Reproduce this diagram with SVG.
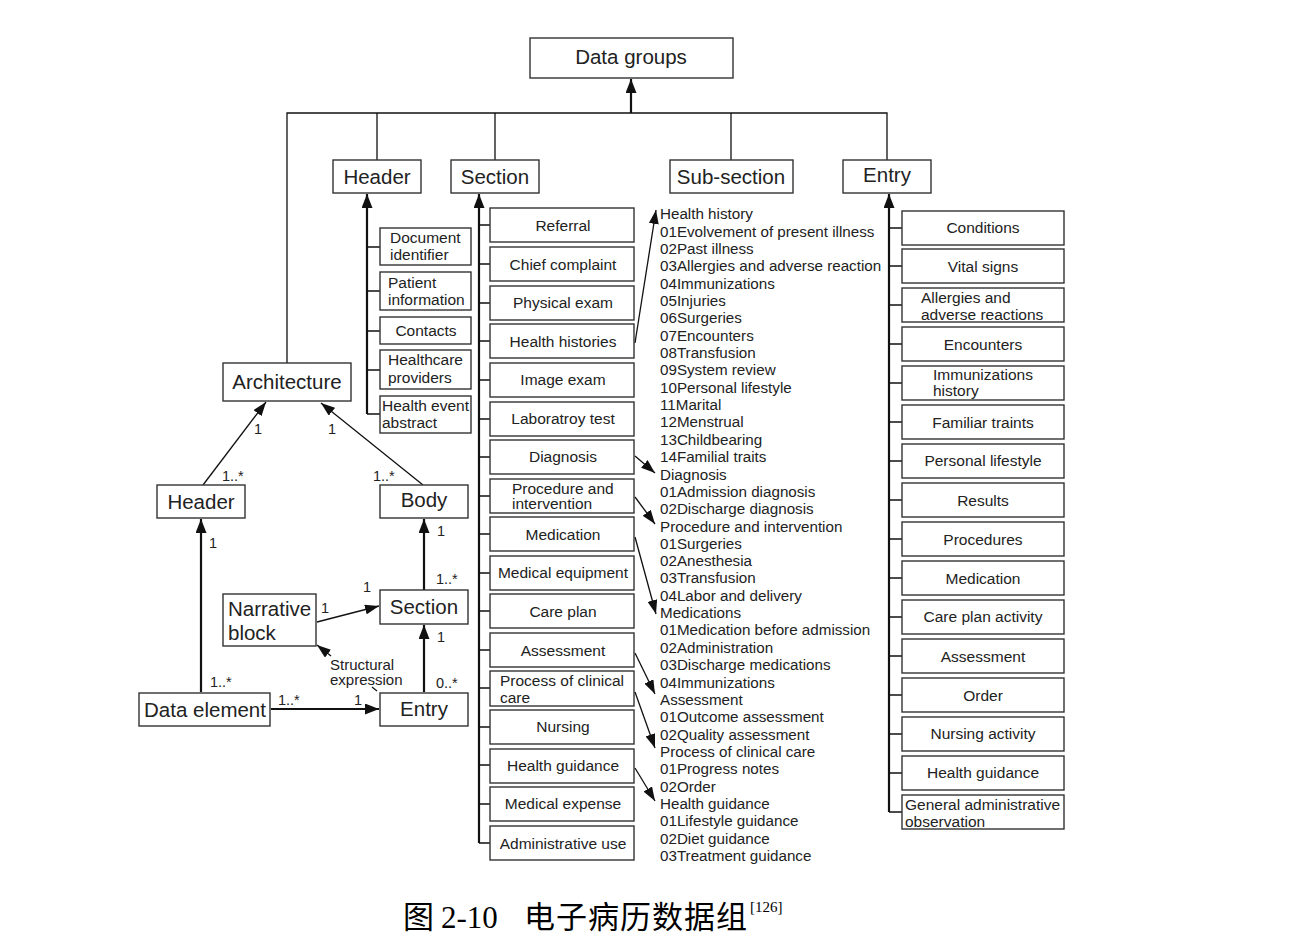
<svg xmlns="http://www.w3.org/2000/svg" width="1300" height="942" viewBox="0 0 1300 942">
<defs>
<marker id="ah" markerUnits="userSpaceOnUse" markerWidth="14" markerHeight="11" refX="14" refY="5.5" orient="auto"><path d="M0,0 L14,5.5 L0,11 z" fill="#111"/></marker>
<marker id="ahs" markerUnits="userSpaceOnUse" markerWidth="14" markerHeight="10" refX="14" refY="5" orient="auto"><path d="M0,0 L14,5 L0,10 z" fill="#111"/></marker>
<style>
.b{fill:#fff;stroke:#333;stroke-width:1.4}
.t{font-family:"Liberation Sans",Arial,sans-serif;fill:#222}
.big{font-size:20.5px;text-anchor:middle}
.it{font-size:15.5px;text-anchor:middle}
.il{font-size:15.5px}
.sub{font-size:15.2px}
.n{font-size:14.5px}
.thin{stroke:#111;stroke-width:1.3;fill:none}
.thk{stroke:#111;stroke-width:2.2;fill:none}
.cap{font-family:"Liberation Serif","Noto Sans CJK SC",serif;fill:#000}
</style>
</defs>
<rect width="1300" height="942" fill="#fff"/>

<g id="connectors">
<path class="thin" d="M287,363 V113 H887 V160 M377,113 V160 M495,113 V160 M731,113 V160"/>
<path class="thk" d="M631,113 V79" marker-end="url(#ah)"/>
<path class="thk" d="M367,414 V194" marker-end="url(#ah)"/>
<path class="thin" d="M367,414 H380 M367,247 H380 M367,291 H380 M367,331 H380 M367,370 H380"/>
<path class="thk" d="M479,843 V194" marker-end="url(#ah)"/>
<path class="thin" d="M479,843 H490 M479,225 H490 M479,264 H490 M479,303 H490 M479,341 H490 M479,380 H490 M479,419 H490 M479,457 H490 M479,496 H490 M479,534 H490 M479,573 H490 M479,611 H490 M479,650 H490 M479,688 H490 M479,727 H490 M479,765 H490 M479,804 H490"/>
<path class="thk" d="M889,812 V194" marker-end="url(#ah)"/>
<path class="thin" d="M889,812 H902 M889,228 H902 M889,266 H902 M889,305 H902 M889,344 H902 M889,383 H902 M889,422 H902 M889,461 H902 M889,500 H902 M889,539 H902 M889,578 H902 M889,617 H902 M889,656 H902 M889,695 H902 M889,734 H902 M889,773 H902"/>
<path class="thin" d="M635,343 L656,210" marker-end="url(#ahs)"/>
<path class="thin" d="M635,456 L655,473" marker-end="url(#ahs)"/>
<path class="thin" d="M635,497 L655,524" marker-end="url(#ahs)"/>
<path class="thin" d="M635,537 L656,614" marker-end="url(#ahs)"/>
<path class="thin" d="M635,653 L655,694" marker-end="url(#ahs)"/>
<path class="thin" d="M635,692 L655,748" marker-end="url(#ahs)"/>
<path class="thin" d="M635,768 L655,801" marker-end="url(#ahs)"/>
<path class="thin" d="M203,485 L266,402" marker-end="url(#ahs)"/>
<path class="thin" d="M423,485 L321,403" marker-end="url(#ahs)"/>
<path class="thk" d="M201,692 V519" marker-end="url(#ah)"/>
<path class="thk" d="M424,590 V519" marker-end="url(#ah)"/>
<path class="thk" d="M424,692 V625" marker-end="url(#ah)"/>
<path class="thk" d="M271,709 H379" marker-end="url(#ah)"/>
<path class="thin" d="M317,622 L379,606" marker-end="url(#ahs)"/>
<path class="thin" d="M377,691 L372,687"/>
<path class="thin" d="M331,656 L317,645" marker-end="url(#ahs)"/>
</g>

<g id="labels" class="t n">
<text x="254" y="434">1</text>
<text x="222" y="481">1..*</text>
<text x="328" y="434">1</text>
<text x="373" y="481">1..*</text>
<text x="209" y="548">1</text>
<text x="210" y="687">1..*</text>
<text x="437" y="536">1</text>
<text x="436" y="584">1..*</text>
<text x="437" y="642">1</text>
<text x="436" y="688">0..*</text>
<text x="278" y="705">1..*</text>
<text x="354" y="705">1</text>
<text x="363" y="592">1</text>
<text x="321" y="613">1</text>
<text x="330" y="670" font-size="15px">Structural</text>
<text x="330" y="685" font-size="15px">expression</text>
</g>

<g id="data-groups"><rect class="b" x="530" y="38" width="203" height="40"/><text class="t big" x="631" y="64">Data groups</text></g>
<g id="top-header"><rect class="b" x="333" y="160" width="88" height="33"/><text class="t big" x="377" y="184">Header</text></g>
<g id="top-section"><rect class="b" x="451" y="160" width="88" height="33"/><text class="t big" x="495" y="184">Section</text></g>
<g id="top-subsection"><rect class="b" x="670" y="160" width="123" height="33"/><text class="t big" x="731" y="184">Sub-section</text></g>
<g id="top-entry"><rect class="b" x="843" y="160" width="88" height="33"/><text class="t big" x="887" y="182">Entry</text></g>

<g id="header-items" class="t il">
<g id="h-doc"><rect class="b" x="380" y="228" width="91" height="37"/><text x="390" y="243">Document</text><text x="390" y="260">identifier</text></g>
<g id="h-patient"><rect class="b" x="380" y="272" width="91" height="38"/><text x="388" y="288">Patient</text><text x="388" y="305">information</text></g>
<g id="h-contacts"><rect class="b" x="380" y="317" width="91" height="27"/><text x="426" y="336" text-anchor="middle">Contacts</text></g>
<g id="h-providers"><rect class="b" x="380" y="350" width="91" height="39"/><text x="388" y="365">Healthcare</text><text x="388" y="383">providers</text></g>
<g id="h-event"><rect class="b" x="380" y="396" width="91" height="37"/><text x="382" y="411">Health event</text><text x="382" y="428">abstract</text></g>
</g>

<g id="section-items" class="t it">
<g id="s1"><rect class="b" x="490" y="208" width="144" height="34"/><text x="563" y="231">Referral</text></g>
<g id="s2"><rect class="b" x="490" y="247" width="144" height="34"/><text x="563" y="270">Chief complaint</text></g>
<g id="s3"><rect class="b" x="490" y="286" width="144" height="34"/><text x="563" y="308">Physical exam</text></g>
<g id="s4"><rect class="b" x="490" y="324" width="144" height="34"/><text x="563" y="347">Health histories</text></g>
<g id="s5"><rect class="b" x="490" y="363" width="144" height="34"/><text x="563" y="385">Image exam</text></g>
<g id="s6"><rect class="b" x="490" y="402" width="144" height="34"/><text x="563" y="424">Laboratroy test</text></g>
<g id="s7"><rect class="b" x="490" y="440" width="144" height="34"/><text x="563" y="462">Diagnosis</text></g>
<g id="s8"><rect class="b" x="490" y="479" width="144" height="34"/><text x="512" y="494" text-anchor="start">Procedure and</text><text x="512" y="509" text-anchor="start">intervention</text></g>
<g id="s9"><rect class="b" x="490" y="517" width="144" height="34"/><text x="563" y="540">Medication</text></g>
<g id="s10"><rect class="b" x="490" y="556" width="144" height="34"/><text x="563" y="578">Medical equipment</text></g>
<g id="s11"><rect class="b" x="490" y="594" width="144" height="34"/><text x="563" y="617">Care plan</text></g>
<g id="s12"><rect class="b" x="490" y="633" width="144" height="34"/><text x="563" y="656">Assessment</text></g>
<g id="s13"><rect class="b" x="490" y="671" width="144" height="35"/><text x="500" y="686" text-anchor="start">Process of clinical</text><text x="500" y="703" text-anchor="start">care</text></g>
<g id="s14"><rect class="b" x="490" y="710" width="144" height="34"/><text x="563" y="732">Nursing</text></g>
<g id="s15"><rect class="b" x="490" y="749" width="144" height="34"/><text x="563" y="771">Health guidance</text></g>
<g id="s16"><rect class="b" x="490" y="787" width="144" height="34"/><text x="563" y="809">Medical expense</text></g>
<g id="s17"><rect class="b" x="490" y="826" width="144" height="34"/><text x="563" y="849">Administrative use</text></g>
</g>

<g id="subsection-text" class="t sub">
<text x="660" y="219">Health history</text>
<text x="660" y="237">01Evolvement of present illness</text>
<text x="660" y="254">02Past illness</text>
<text x="660" y="271">03Allergies and adverse reaction</text>
<text x="660" y="289">04Immunizations</text>
<text x="660" y="306">05Injuries</text>
<text x="660" y="323">06Surgeries</text>
<text x="660" y="341">07Encounters</text>
<text x="660" y="358">08Transfusion</text>
<text x="660" y="375">09System review</text>
<text x="660" y="393">10Personal lifestyle</text>
<text x="660" y="410">11Marital</text>
<text x="660" y="427">12Menstrual</text>
<text x="660" y="445">13Childbearing</text>
<text x="660" y="462">14Familial traits</text>
<text x="660" y="480">Diagnosis</text>
<text x="660" y="497">01Admission diagnosis</text>
<text x="660" y="514">02Discharge diagnosis</text>
<text x="660" y="532">Procedure and intervention</text>
<text x="660" y="549">01Surgeries</text>
<text x="660" y="566">02Anesthesia</text>
<text x="660" y="583">03Transfusion</text>
<text x="660" y="601">04Labor and delivery</text>
<text x="660" y="618">Medications</text>
<text x="660" y="635">01Medication before admission</text>
<text x="660" y="653">02Administration</text>
<text x="660" y="670">03Discharge medications</text>
<text x="660" y="688">04Immunizations</text>
<text x="660" y="705">Assessment</text>
<text x="660" y="722">01Outcome assessment</text>
<text x="660" y="740">02Quality assessment</text>
<text x="660" y="757">Process of clinical care</text>
<text x="660" y="774">01Progress notes</text>
<text x="660" y="792">02Order</text>
<text x="660" y="809">Health guidance</text>
<text x="660" y="826">01Lifestyle guidance</text>
<text x="660" y="844">02Diet guidance</text>
<text x="660" y="861">03Treatment guidance</text>
</g>

<g id="entry-items" class="t it">
<g id="e1"><rect class="b" x="902" y="211" width="162" height="34"/><text x="983" y="233">Conditions</text></g>
<g id="e2"><rect class="b" x="902" y="249" width="162" height="34"/><text x="983" y="272">Vital signs</text></g>
<g id="e3"><rect class="b" x="902" y="288" width="162" height="34"/><text x="921" y="303" text-anchor="start">Allergies and</text><text x="921" y="320" text-anchor="start">adverse reactions</text></g>
<g id="e4"><rect class="b" x="902" y="327" width="162" height="34"/><text x="983" y="350">Encounters</text></g>
<g id="e5"><rect class="b" x="902" y="366" width="162" height="34"/><text x="933" y="380" text-anchor="start">Immunizations</text><text x="933" y="396" text-anchor="start">history</text></g>
<g id="e6"><rect class="b" x="902" y="405" width="162" height="34"/><text x="983" y="428">Familiar traints</text></g>
<g id="e7"><rect class="b" x="902" y="444" width="162" height="34"/><text x="983" y="466">Personal lifestyle</text></g>
<g id="e8"><rect class="b" x="902" y="483" width="162" height="34"/><text x="983" y="506">Results</text></g>
<g id="e9"><rect class="b" x="902" y="522" width="162" height="34"/><text x="983" y="545">Procedures</text></g>
<g id="e10"><rect class="b" x="902" y="561" width="162" height="34"/><text x="983" y="584">Medication</text></g>
<g id="e11"><rect class="b" x="902" y="600" width="162" height="34"/><text x="983" y="622">Care plan activity</text></g>
<g id="e12"><rect class="b" x="902" y="639" width="162" height="34"/><text x="983" y="662">Assessment</text></g>
<g id="e13"><rect class="b" x="902" y="678" width="162" height="34"/><text x="983" y="701">Order</text></g>
<g id="e14"><rect class="b" x="902" y="717" width="162" height="34"/><text x="983" y="739">Nursing activity</text></g>
<g id="e15"><rect class="b" x="902" y="756" width="162" height="34"/><text x="983" y="778">Health guidance</text></g>
<g id="e16"><rect class="b" x="902" y="795" width="162" height="34"/><text x="905" y="810" text-anchor="start">General administrative</text><text x="905" y="827" text-anchor="start">observation</text></g>
</g>

<g id="architecture"><rect class="b" x="223" y="363" width="128" height="38"/><text class="t big" x="287" y="389">Architecture</text></g>
<g id="header"><rect class="b" x="157" y="485" width="88" height="33"/><text class="t big" x="201" y="509">Header</text></g>
<g id="body"><rect class="b" x="380" y="485" width="88" height="33"/><text class="t big" x="424" y="507">Body</text></g>
<g id="narrative-block"><rect class="b" x="223" y="594" width="93" height="52"/><text class="t" x="228" y="616" font-size="20.5">Narrative</text><text class="t" x="228" y="640" font-size="20.5">block</text></g>
<g id="section"><rect class="b" x="380" y="590" width="88" height="34"/><text class="t big" x="424" y="614">Section</text></g>
<g id="data-element"><rect class="b" x="139" y="693" width="131" height="33"/><text class="t big" x="205" y="717">Data element</text></g>
<g id="entry"><rect class="b" x="380" y="693" width="88" height="33"/><text class="t big" x="424" y="716">Entry</text></g>

<g id="caption" class="cap">
<text x="403" y="928" font-size="31">图</text>
<text x="441" y="928" font-size="31">2-10</text>
<text x="524" y="928" font-size="31" letter-spacing="1">电子病历数据组</text>
<text x="750" y="912" font-size="15">[126]</text>
</g>
</svg>
